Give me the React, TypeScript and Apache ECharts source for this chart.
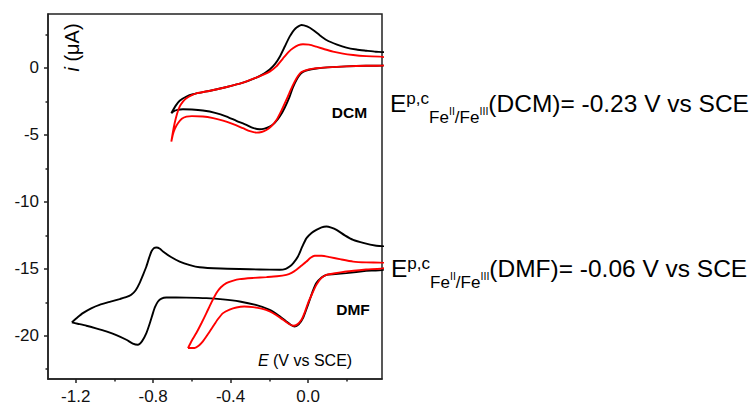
import React, { useEffect, useRef } from "react";
import * as echarts from "echarts";

type Pt = [number, number];

// Cyclic voltammograms (E in V vs SCE, i in µA)
const dcmBlack: Pt[] = [
  [-0.706, -3.38], [-0.685, -2.85], [-0.663, -2.45], [-0.63, -2.15], [-0.594, -1.96], [-0.5, -1.68],
  [-0.42, -1.42], [-0.34, -1.12], [-0.267, -0.72], [-0.225, -0.4], [-0.198, -0.12], [-0.17, 0.3],
  [-0.146, 0.84], [-0.12, 1.6], [-0.095, 2.34], [-0.065, 2.95], [-0.034, 3.21], [-0.005, 3.1],
  [0.026, 2.84], [0.06, 2.45], [0.095, 2.09], [0.15, 1.75], [0.198, 1.52], [0.25, 1.38], [0.302, 1.29],
  [0.35, 1.21], [0.4, 1.15], [0.4, 0.18], [0.3, 0.16], [0.198, 0.12], [0.1, 0.04], [0.043, -0.04],
  [0.0, -0.15], [-0.026, -0.3], [-0.045, -0.55], [-0.06, -0.9], [-0.078, -1.45], [-0.095, -2.14],
  [-0.12, -2.95], [-0.146, -3.63], [-0.172, -4.1], [-0.198, -4.38], [-0.225, -4.53], [-0.25, -4.58],
  [-0.285, -4.48], [-0.318, -4.25], [-0.37, -3.95], [-0.42, -3.63], [-0.48, -3.35], [-0.543, -3.18],
  [-0.6, -3.1], [-0.646, -3.08], [-0.675, -3.13], [-0.695, -3.24], [-0.706, -3.38],
];

const dcmRed: Pt[] = [
  [-0.706, -5.5], [-0.698, -4.8], [-0.689, -4.13], [-0.676, -3.4], [-0.663, -2.89], [-0.645, -2.5],
  [-0.628, -2.26], [-0.6, -2.03], [-0.577, -1.9], [-0.5, -1.68], [-0.42, -1.42], [-0.34, -1.12],
  [-0.267, -0.72], [-0.23, -0.5], [-0.198, -0.27], [-0.165, 0.1], [-0.129, 0.72], [-0.1, 1.2],
  [-0.078, 1.47], [-0.05, 1.7], [-0.026, 1.77], [0.005, 1.74], [0.043, 1.59], [0.085, 1.4],
  [0.129, 1.22], [0.18, 1.07], [0.233, 0.97], [0.3, 0.88], [0.4, 0.78], [0.4, 0.18], [0.3, 0.16],
  [0.198, 0.12], [0.1, 0.04], [0.043, -0.02], [0.0, -0.12], [-0.034, -0.3], [-0.052, -0.6],
  [-0.069, -1.02], [-0.09, -1.65], [-0.112, -2.39], [-0.138, -3.2], [-0.163, -3.88], [-0.19, -4.35],
  [-0.215, -4.63], [-0.24, -4.78], [-0.267, -4.83], [-0.3, -4.72], [-0.336, -4.5], [-0.39, -4.18],
  [-0.439, -3.93], [-0.49, -3.75], [-0.543, -3.63], [-0.6, -3.6], [-0.628, -3.63], [-0.652, -3.8],
  [-0.672, -4.13], [-0.688, -4.55], [-0.698, -4.97], [-0.706, -5.5],
];

const dmfBlack: Pt[] = [
  [-1.22, -19.0], [-1.19, -18.62], [-1.163, -18.31], [-1.12, -17.95], [-1.077, -17.69], [-1.02, -17.45],
  [-0.973, -17.26], [-0.94, -17.12], [-0.913, -16.94], [-0.89, -16.6], [-0.87, -16.07], [-0.852, -15.45],
  [-0.835, -14.83], [-0.82, -14.15], [-0.809, -13.71], [-0.795, -13.45], [-0.783, -13.41], [-0.765, -13.5],
  [-0.749, -13.71], [-0.71, -14.1], [-0.663, -14.46], [-0.61, -14.72], [-0.56, -14.88], [-0.45, -14.98],
  [-0.353, -15.02], [-0.25, -15.05], [-0.146, -15.07], [-0.115, -15.0], [-0.095, -14.83], [-0.075, -14.55],
  [-0.052, -14.08], [-0.03, -13.35], [-0.008, -12.71], [0.018, -12.32], [0.043, -12.09], [0.07, -11.9],
  [0.095, -11.84], [0.12, -11.92], [0.147, -12.09], [0.19, -12.5], [0.233, -12.84], [0.29, -13.08],
  [0.353, -13.28], [0.4, -13.38], [0.4, -15.0], [0.3, -15.15], [0.198, -15.32], [0.14, -15.4],
  [0.095, -15.45], [0.07, -15.65], [0.043, -16.07], [0.025, -16.65], [0.009, -17.31], [-0.008, -18.0],
  [-0.026, -18.68], [-0.048, -19.15], [-0.069, -19.31], [-0.09, -19.18], [-0.112, -18.93], [-0.15, -18.5],
  [-0.198, -18.06], [-0.27, -17.7], [-0.353, -17.44], [-0.44, -17.28], [-0.525, -17.19], [-0.63, -17.15],
  [-0.732, -17.14], [-0.757, -17.22], [-0.775, -17.44], [-0.79, -17.85], [-0.801, -18.31], [-0.818, -19.1],
  [-0.835, -19.8], [-0.857, -20.4], [-0.879, -20.67], [-0.905, -20.58], [-0.938, -20.3], [-0.99, -19.95],
  [-1.042, -19.68], [-1.095, -19.45], [-1.145, -19.25], [-1.19, -19.1], [-1.22, -19.0],
];

const dmfRed: Pt[] = [
  [-0.62, -20.92], [-0.6, -20.35], [-0.577, -19.8], [-0.55, -19.05], [-0.525, -18.31], [-0.5, -17.55],
  [-0.473, -16.81], [-0.45, -16.38], [-0.422, -16.07], [-0.39, -15.9], [-0.353, -15.77], [-0.28, -15.68],
  [-0.215, -15.62], [-0.16, -15.56], [-0.112, -15.45], [-0.085, -15.3], [-0.06, -15.07], [-0.035, -14.78],
  [-0.008, -14.46], [0.013, -14.18], [0.035, -14.03], [0.07, -14.03], [0.112, -14.13], [0.17, -14.3],
  [0.233, -14.46], [0.3, -14.52], [0.4, -14.55], [0.4, -14.92], [0.3, -15.05], [0.198, -15.2],
  [0.14, -15.33], [0.095, -15.45], [0.068, -15.7], [0.043, -16.2], [0.02, -16.9], [0.0, -17.56],
  [-0.017, -18.25], [-0.034, -18.81], [-0.055, -19.15], [-0.078, -19.25], [-0.1, -19.1], [-0.129, -18.81],
  [-0.165, -18.45], [-0.198, -18.18], [-0.24, -17.98], [-0.284, -17.86], [-0.33, -17.82], [-0.37, -17.89],
  [-0.405, -18.05], [-0.439, -18.31], [-0.465, -18.75], [-0.491, -19.31], [-0.52, -19.95], [-0.543, -20.42],
  [-0.565, -20.75], [-0.586, -20.92], [-0.62, -20.92],
];

const xMajorTicks = [-1.2, -0.8, -0.4, 0.0];
const xMinorTicks = [-1.0, -0.6, -0.2, 0.2];
const yMajorTicks = [-20, -15, -10, -5, 0];
const yMinorTicks = [-22.5, -17.5, -12.5, -7.5, -2.5, 2.5];

const X_MIN = -1.343;
const X_MAX = 0.382;
const Y_MIN = -23.23;
const Y_MAX = 4.03;

const annotations = [
  { solvent: "DCM", value: "-0.23" },
  { solvent: "DMF", value: "-0.06" },
];

const FONT = "'Liberation Sans', Arial, Helvetica, sans-serif";
const AXIS_COLOR = "#222";

function measure(text: string, size: number): number {
  const c = document.createElement("canvas").getContext("2d");
  if (!c) return text.length * size * 0.55;
  c.font = `${size}px ${FONT}`;
  return c.measureText(text).width;
}

function equation(x0: number, baseline: number, solvent: string, value: string, sx: number) {
  const segs = [
    { t: "E", s: 23, dy: 0 },
    { t: "p,c", s: 16, dy: -8 },
    { t: "Fe", s: 16, dy: 11.6 },
    { t: "II", s: 10, dy: 3.3 },
    { t: "/Fe", s: 16, dy: 11.6 },
    { t: "III", s: 10, dy: 3.3 },
    { t: `(${solvent})= ${value} V vs SCE`, s: 23, dy: 0 },
  ];
  let x = x0;
  const els: any[] = [];
  for (const g of segs) {
    els.push({
      type: "text",
      x,
      y: baseline + g.dy - 0.33 * g.s,
      scaleX: sx,
      style: {
        text: g.t,
        fontSize: g.s,
        fontFamily: FONT,
        fill: "#000",
        align: "left",
        verticalAlign: "middle",
      },
    });
    x += measure(g.t, g.s) * sx;
  }
  return els;
}

function valueAxis(min: number, max: number, position: string, ticks: number[], len: number, labels: boolean, fmt: (v: number) => string, margin: number) {
  return {
    type: "value",
    min,
    max,
    position,
    axisLine: { show: labels, onZero: false, lineStyle: { color: AXIS_COLOR, width: 1.5 } },
    axisTick: { show: true, customValues: ticks, length: len, inside: false, lineStyle: { color: AXIS_COLOR, width: 1.5 } },
    axisLabel: labels
      ? { show: true, customValues: ticks, formatter: fmt, fontSize: 17, fontFamily: FONT, color: "#111", margin }
      : { show: false },
    splitLine: { show: false },
  };
}

export default function App() {
  const ref = useRef<HTMLDivElement>(null);
  useEffect(() => {
    if (!ref.current) return;
    const chart = echarts.init(ref.current, undefined, { renderer: "svg" });
    const fx = (v: number) => v.toFixed(1);
    const fy = (v: number) => String(Math.round(v));
    const line = (data: Pt[], color: string) => ({
      type: "line",
      data,
      xAxisIndex: 0,
      yAxisIndex: 0,
      showSymbol: false,
      smooth: 0.2,
      clip: true,
      lineStyle: { color, width: 1.9 },
      silent: true,
    });
    chart.setOption({
      animation: false,
      grid: {
        left: 48,
        top: 14,
        width: 334,
        height: 365,
        show: true,
        borderColor: AXIS_COLOR,
        borderWidth: 1.5,
        backgroundColor: "transparent",
        outerBoundsMode: "none",
      },
      xAxis: [
        valueAxis(X_MIN, X_MAX, "bottom", xMajorTicks, 4, true, fx, 9),
        valueAxis(X_MIN, X_MAX, "bottom", xMinorTicks, 2.5, false, fx, 9),
      ],
      yAxis: [
        valueAxis(Y_MIN, Y_MAX, "left", yMajorTicks, 4, true, fy, 9),
        valueAxis(Y_MIN, Y_MAX, "left", yMinorTicks, 2.5, false, fy, 9),
      ],
      series: [
        line(dcmBlack, "#000000"),
        line(dcmRed, "#ff0000"),
        line(dmfBlack, "#000000"),
        line(dmfRed, "#ff0000"),
      ],
      graphic: [
        {
          type: "text",
          x: 72,
          y: 47.5,
          rotation: Math.PI / 2,
          style: {
            text: "{it|i} (μA)",
            fontSize: 20,
            fontFamily: FONT,
            fill: "#000",
            align: "center",
            verticalAlign: "middle",
            rich: { it: { fontStyle: "italic", fontSize: 20, fontFamily: FONT, fill: "#000" } },
          },
        },
        {
          type: "text",
          x: 305,
          y: 360,
          style: {
            text: "{it|E} (V vs SCE)",
            fontSize: 16,
            fontFamily: FONT,
            fill: "#000",
            align: "center",
            verticalAlign: "middle",
            rich: { it: { fontStyle: "italic", fontSize: 16, fontFamily: FONT, fill: "#000" } },
          },
        },
        {
          type: "text",
          x: 349.5,
          y: 112,
          style: { text: "DCM", fontSize: 15.5, fontWeight: "bold", fontFamily: FONT, fill: "#000", align: "center", verticalAlign: "middle" },
        },
        {
          type: "text",
          x: 353,
          y: 309.5,
          style: { text: "DMF", fontSize: 15.5, fontWeight: "bold", fontFamily: FONT, fill: "#000", align: "center", verticalAlign: "middle" },
        },
        ...equation(390, 111.7, annotations[0].solvent, annotations[0].value, 1.065),
        ...equation(391, 276.7, annotations[1].solvent, annotations[1].value, 1.065),
      ],
    });
    return () => chart.dispose();
  }, []);
  return <div ref={ref} style={{ position: "fixed", left: 0, top: 0, width: 752, height: 407, background: "#fff" }} />;
}
